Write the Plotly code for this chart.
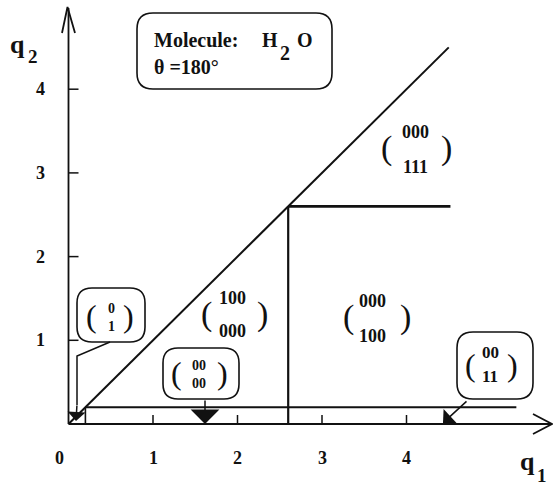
import plotly.graph_objects as go

# ---------------- data (in q1/q2 units) ----------------
diag_q1 = [0.0, 4.5]
diag_q2 = [0.0, 4.5]
low_h_q1 = [0.2, 5.3]
low_h_q2 = [0.2, 0.2]
low_v_q1 = [0.2, 0.2]
low_v_q2 = [0.0, 0.2]
mid_v_q1 = [2.6, 2.6]
mid_v_q2 = [0.0, 2.6]
up_h_q1 = [2.6, 4.52]
up_h_q2 = [2.6, 2.6]

x_ticks = [1, 2, 3, 4]
y_ticks = [1, 2, 3, 4]
x_tick_labels = ["0", "1", "2", "3", "4"]
y_tick_labels = ["1", "2", "3", "4"]

# ---------------- pixel <-> data mapping ----------------
W, H = 553, 485
X0, SX = 68.5, 84.5
Y0, SY = 424.0, 83.7


def X(px):
    return (px - X0) / SX


def Y(py):
    return (Y0 - py) / SY


FONT = "Liberation Serif"
BLACK = "#111111"

fig = go.Figure()

# boundary lines
for xs, ys, w in [
    (diag_q1, diag_q2, 2.0),
    (low_h_q1, low_h_q2, 2.2),
    (low_v_q1, low_v_q2, 1.6),
    (mid_v_q1, mid_v_q2, 2.2),
    (up_h_q1, up_h_q2, 2.6),
]:
    fig.add_trace(go.Scatter(x=xs, y=ys, mode="lines",
                             line=dict(color=BLACK, width=w),
                             hoverinfo="skip", showlegend=False))

shapes = []
# axes
shapes.append(dict(type="line", xref="x", yref="y", x0=0, y0=0, x1=X(552), y1=0,
                   line=dict(color=BLACK, width=1.8)))
shapes.append(dict(type="line", xref="x", yref="y", x0=0, y0=0, x1=0, y1=Y(8),
                   line=dict(color=BLACK, width=1.8)))
# axis arrow heads (open V)
shapes.append(dict(type="path", xref="x", yref="y",
                   path=f"M {X(533)},{Y(414)} L {X(552)},{Y(424)} L {X(533)},{Y(434)}",
                   line=dict(color=BLACK, width=1.8)))
shapes.append(dict(type="path", xref="x", yref="y",
                   path=f"M {X(62)},{Y(33)} L {X(67.5)},{Y(7)} L {X(75)},{Y(33)}",
                   line=dict(color=BLACK, width=1.8)))
# ticks
for t in x_ticks:
    shapes.append(dict(type="line", xref="x", yref="y", x0=t, y0=0, x1=t, y1=9 / SY,
                       line=dict(color=BLACK, width=1.5)))
for t in y_ticks:
    shapes.append(dict(type="line", xref="x", yref="y", x0=0, y0=t, x1=10 / SX, y1=t,
                       line=dict(color=BLACK, width=1.5)))


def rbox(l, t, r, b, rad=15):
    xl, xr, yt, yb = X(l), X(r), Y(t), Y(b)
    rx, ry = rad / SX, rad / SY
    p = (f"M {xl+rx},{yt} L {xr-rx},{yt} Q {xr},{yt} {xr},{yt-ry} "
         f"L {xr},{yb+ry} Q {xr},{yb} {xr-rx},{yb} L {xl+rx},{yb} "
         f"Q {xl},{yb} {xl},{yb+ry} L {xl},{yt-ry} Q {xl},{yt} {xl+rx},{yt} Z")
    return dict(type="path", xref="x", yref="y", path=p,
                line=dict(color=BLACK, width=1.6), fillcolor="white")


shapes += [rbox(137, 13, 332, 89, 16), rbox(77, 288, 145, 342, 15),
           rbox(163, 348, 239, 399, 15), rbox(457, 332, 533, 399, 16)]
# leader line of the (0 1) label
shapes.append(dict(type="path", xref="x", yref="y",
                   path=f"M {X(110)},{Y(342)} L {X(77)},{Y(356)} L {X(77)},{Y(405)}",
                   line=dict(color=BLACK, width=1.5)))

anns = []


def txt(px, py, s, size, bold=True, xanchor="center"):
    anns.append(dict(x=X(px), y=Y(py), xref="x", yref="y", text=s, showarrow=False,
                     xanchor=xanchor, yanchor="middle", borderpad=0,
                     font=dict(family=FONT, size=size, color=BLACK,
                               weight="bold" if bold else "normal")))


# tick labels
x_label_pos = [-0.11, 1, 2, 3, 4]
for v, s in zip(x_label_pos, x_tick_labels):
    anns.append(dict(x=v, y=Y(458), xref="x", yref="y", text=s, showarrow=False,
                     font=dict(family=FONT, size=18, color=BLACK, weight="bold")))
for v, s in zip(y_ticks, y_tick_labels):
    anns.append(dict(x=X(40), y=v, xref="x", yref="y", text=s, showarrow=False,
                     font=dict(family=FONT, size=18, color=BLACK, weight="bold")))

# axis titles
txt(17, 44, "q", 26)
txt(33, 56, "2", 19)
txt(527, 461, "q", 26)
txt(542, 475, "1", 19)

# info box
txt(153, 40, "Molecule:", 20, xanchor="left")
txt(270, 40, "H", 20)
txt(285, 53, "2", 20)
txt(305, 40, "O", 20)
txt(153, 67, "θ =180°", 20, xanchor="left")

# matrix labels with well separated rows
mats = [
    ("000", "111", 415, 132, 167, 386, 446, 148, 18, 34),
    ("100", "000", 232, 298, 331, 206, 262, 314, 18, 34),
    ("000", "100", 372, 301, 336, 348, 405, 317, 18, 34),
    ("00", "11", 490, 352, 376, 470, 512, 365, 17, 32),
]
for top, bot, cx, yt, yb, lx, rx, ym, ds, ps in mats:
    txt(cx, yt, top, ds)
    txt(cx, yb, bot, ds)
    txt(lx, ym, "(", ps, bold=False)
    txt(rx, ym, ")", ps, bold=False)

# compact two-row labels
compact = [
    ("0<br>1", 111, 317, 91, 128, 316, 14, 32),
    ("00<br>00", 199, 374, 176, 222, 373, 14, 32),
]
for s, cx, cy, lx, rx, ym, ds, ps in compact:
    txt(cx, cy, s, ds)
    txt(lx, ym, "(", ps, bold=False)
    txt(rx, ym, ")", ps, bold=False)

# arrows
for tip, tail, size in [((76, 421), (77, 404), 2.0), ((205, 424), (205, 399), 3.2),
                        ((443, 423), (468, 400), 2.2)]:
    anns.append(dict(x=X(tip[0]), y=Y(tip[1]), ax=X(tail[0]), ay=Y(tail[1]),
                     xref="x", yref="y", axref="x", ayref="y", text="",
                     showarrow=True, arrowhead=1, arrowsize=size, arrowwidth=1.5,
                     arrowcolor=BLACK))

fig.update_layout(
    width=W, height=H, margin=dict(l=0, r=0, t=0, b=0),
    paper_bgcolor="white", plot_bgcolor="white",
    xaxis=dict(range=[X(0), X(W)], visible=False, fixedrange=True),
    yaxis=dict(range=[Y(H), Y(0)], visible=False, fixedrange=True),
    shapes=shapes, annotations=anns, showlegend=False,
)

fig.write_html("out.html", config={"displayModeBar": False},
               post_script="document.body.style.margin='0';")
